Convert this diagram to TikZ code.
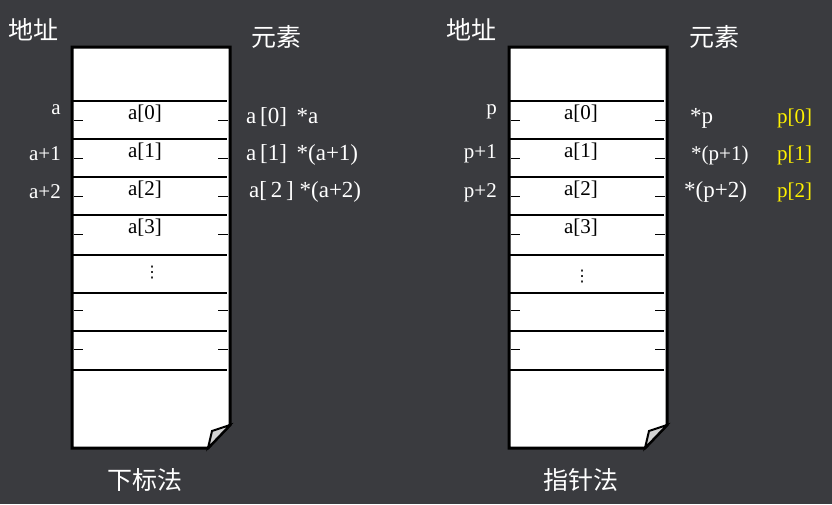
\documentclass[tikz,border=0pt]{standalone}
\usepackage{fontspec}
\setmainfont{Liberation Serif}
\newfontfamily\cjk{Noto Sans CJK SC}
\newfontfamily\djv{DejaVu Sans}
\begin{document}
\begin{tikzpicture}[x=1pt,y=-1pt,
  lbl/.style={text=white,font=\fontsize{21}{21}\selectfont,inner sep=0pt},
  big/.style={text=white,font=\fontsize{23}{23}\selectfont,inner sep=0pt},
  cell/.style={text=black,font=\fontsize{21}{21}\selectfont,inner sep=0pt},
  zh/.style={text=white,font=\cjk\fontsize{25}{25}\selectfont,inner sep=0pt},
  ylw/.style={text=yellow,font=\fontsize{21}{21}\selectfont,inner sep=0pt}]
\fill[fill={rgb,255:red,58;green,59;blue,63}] (0,0) rectangle (832,504);
\useasboundingbox (0,0) rectangle (832,504);
\foreach \x/\n in {72/L,509/R}{
  \coordinate (\n) at (\x,47);
  \draw[line width=3pt,fill=white] (\x,47) -- ++(158,0) -- ++(0,378) -- ++(-22,23) -- ++(-136,0) -- cycle;
  \filldraw[line width=2pt,fill={rgb,255:red,210;green,210;blue,210}] (\x+158,425) -- (\x+140,431) -- (\x+136,448) -- cycle;
  \foreach \y in {101,139,177,215,255,293,331,370}
    \draw[line width=2.5pt] (\x,\y) -- (\x+155,\y);
  \foreach \y in {120,158,196,234,310,349}{
    \draw[line width=1pt] (\x+2,\y) -- (\x+11,\y);
    \draw[line width=1pt] (\x+146,\y) -- (\x+156,\y);}
}
% left panel
\node[zh] (ad1) at (34,30) {地址};
\node[zh] (el1) at (276,37) {元素};
\node[zh] (m1) at (145,480) {下标法};
\node[lbl,anchor=east] (a0) at (61,110) {a};
\node[lbl,anchor=east] (a1) at (61,154) {a+1};
\node[lbl,anchor=east] (a2) at (61,192) {a+2};
\node[cell] (c0) at (145,114) {a[0]};
\node[cell] (c1) at (145,152) {a[1]};
\node[cell] (c2) at (145,190) {a[2]};
\node[cell] (c3) at (145,228) {a[3]};
\node[cell,font=\djv\fontsize{16}{16}\selectfont] (cd) at (152,273) {⋮};
\node[big,anchor=west] (e0) at (246,117) {a\,[0]\, *a};
\node[big,anchor=west] (e1) at (246,155) {a\,[1]\, *(a+1)};
\node[big,anchor=west] (e2) at (249,192) {a[\,2\,] *(a+2)};
% right panel
\node[zh] (ad2) at (471,30) {地址};
\node[zh] (el2) at (714,37) {元素};
\node[zh] (m2) at (581,480) {指针法};
\node[lbl,anchor=east] (p0) at (497,112) {p};
\node[lbl,anchor=east] (p1) at (497,154) {p+1};
\node[lbl,anchor=east] (p2) at (497,193) {p+2};
\node[cell] (d0) at (581,114) {a[0]};
\node[cell] (d1) at (581,152) {a[1]};
\node[cell] (d2) at (581,190) {a[2]};
\node[cell] (d3) at (581,228) {a[3]};
\node[cell,font=\djv\fontsize{16}{16}\selectfont] (dd) at (582,277) {⋮};
\node[big,anchor=west] (s0) at (690,118) {*p};
\node[lbl,anchor=west] (s1) at (691,155) {*(p+1)};
\node[big,anchor=west] (s2) at (684,192) {*(p+2)};
\node[ylw,anchor=west] (y0) at (777,118) {p[0]};
\node[ylw,anchor=west] (y1) at (777,155) {p[1]};
\node[ylw,anchor=west] (y2) at (777,192) {p[2]};
\end{tikzpicture}
\end{document}
